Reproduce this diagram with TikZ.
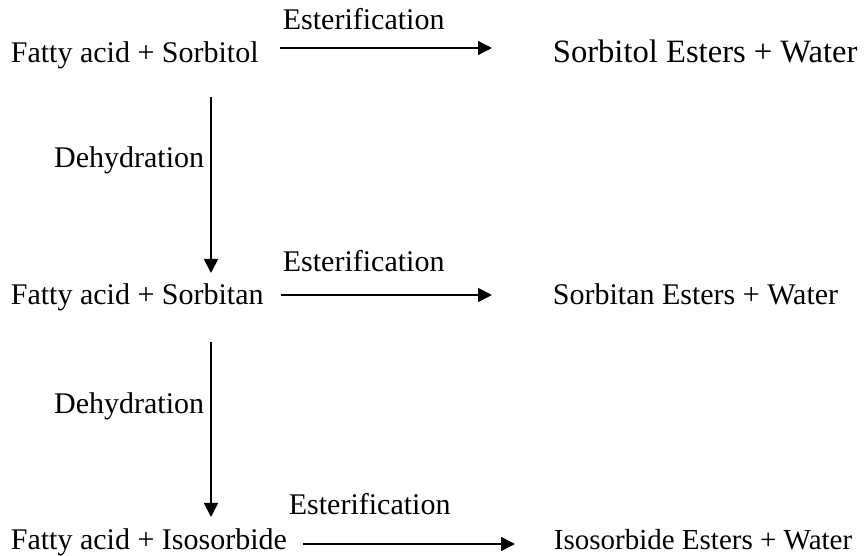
\documentclass[tikz,border=0pt]{standalone}
\usepackage{fontspec}
\setmainfont{Liberation Serif}
\usetikzlibrary{arrows.meta}

\begin{document}
\begin{tikzpicture}[x=0.5pt, y=-0.5pt, ->, >={Triangle[length=7pt, width=7pt]}, line width=0.9pt, chem node/.style={font=\fontsize{15}{18}\selectfont, inner sep=0pt, anchor=base west}]

			\useasboundingbox (0,0) rectangle (864,556);

			% left column
			\node[chem node] (acid1) at (10,63) {Fatty acid + Sorbitol};
			\node[chem node] (acid2) at (10,305) {Fatty acid + Sorbitan};
			\node[chem node] (acid3) at (10,549) {Fatty acid + Isosorbide};

			% right column
			\node[chem node, font=\fontsize{16.3}{19}\selectfont] (ester1) at (552,63) {Sorbitol Esters + Water};
			\node[chem node] (ester2) at (552,305) {Sorbitan Esters + Water};
			\node[chem node, font=\fontsize{14.5}{17}\selectfont] (ester3) at (553,550) {Isosorbide Esters + Water};

			% Esterification
			\coordinate (s1) at (280,48);
			\coordinate (t1) at (492,48);
			\coordinate (s2) at (281,295);
			\coordinate (t2) at (492,295);
			\coordinate (s3) at (303,544);
			\coordinate (t3) at (515,544);
			\draw (s1) -- (t1);
			\draw (s2) -- (t2);
			\draw (s3) -- (t3);
			\node[chem node] (est1) at (282,30) {Esterification};
			\node[chem node] (est2) at (282,272) {Esterification};
			\node[chem node] (est3) at (288,515) {Esterification};

			% Dehydration
			\coordinate (d1) at (211,97);
			\coordinate (e1) at (211,273);
			\coordinate (d2) at (211,342);
			\coordinate (e2) at (211,517);
			\draw (d1) -- (e1);
			\draw (d2) -- (e2);
			\node[chem node, anchor=base east] (dehyd1) at (205,168) {Dehydration};
			\node[chem node, anchor=base east] (dehyd2) at (205,414) {Dehydration};

		\end{tikzpicture}
\end{document}
